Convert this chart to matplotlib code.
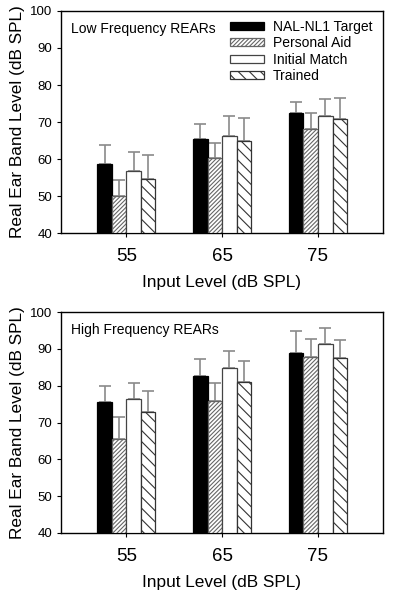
import numpy as np
import matplotlib
matplotlib.use("Agg")
import matplotlib.pyplot as plt

plt.rcParams['font.family'] = ['Liberation Sans', 'DejaVu Sans']
plt.rcParams['hatch.linewidth'] = 0.8

# data
input_levels = ["55", "65", "75"]
series_names = ["NAL-NL1 Target", "Personal Aid", "Initial Match", "Trained"]

low_means = {
    "NAL-NL1 Target": [58.6, 65.5, 72.3],
    "Personal Aid":   [49.9, 60.2, 68.2],
    "Initial Match":  [56.7, 66.3, 71.7],
    "Trained":        [54.5, 64.9, 70.8],
}
low_upper = {
    "NAL-NL1 Target": [63.7, 69.4, 75.3],
    "Personal Aid":   [54.2, 64.3, 72.5],
    "Initial Match":  [62.0, 71.6, 76.2],
    "Trained":        [61.0, 71.0, 76.4],
}
high_means = {
    "NAL-NL1 Target": [75.7, 82.6, 89.0],
    "Personal Aid":   [65.5, 75.9, 87.9],
    "Initial Match":  [76.5, 84.7, 91.2],
    "Trained":        [72.9, 81.1, 87.6],
}
high_upper = {
    "NAL-NL1 Target": [80.0, 87.3, 94.9],
    "Personal Aid":   [71.6, 80.8, 92.7],
    "Initial Match":  [80.6, 89.5, 95.6],
    "Trained":        [78.5, 86.7, 92.3],
}

# bar styles
styles = {
    "NAL-NL1 Target": dict(facecolor="black", edgecolor="black", hatch=None),
    "Personal Aid":   dict(facecolor="white", edgecolor="#666666", hatch="////////"),
    "Initial Match":  dict(facecolor="white", edgecolor="#444444", hatch=None),
    "Trained":        dict(facecolor="white", edgecolor="#333333", hatch="\\\\\\"),
}

fig = plt.figure(figsize=(3.95, 5.94), dpi=100)
ax1 = fig.add_axes([0.154, 0.6077, 0.816, 0.3738])
ax2 = fig.add_axes([0.154, 0.1027, 0.816, 0.3720])

x = np.arange(len(input_levels))
w = 0.152


def draw_panel(ax, means, upper, title, legend):
    for i, name in enumerate(series_names):
        pos = x + (i - 1.5) * w
        m = np.array(means[name])
        u = np.array(upper[name])
        st = styles[name]
        ax.bar(pos, m - 40, w, bottom=40, facecolor=st["facecolor"],
               edgecolor=st["edgecolor"], hatch=st["hatch"], linewidth=0.9,
               label=name, zorder=3)
        eb = ax.errorbar(pos, m, yerr=[np.zeros_like(m), u - m], fmt="none",
                         ecolor="#8a8a8a", elinewidth=1.2, capsize=4,
                         capthick=1.2, zorder=2)
        for cap in eb[1]:
            cap.set_color("#333333")
    ax.set_ylim(40, 100)
    ax.set_xlim(-0.684, 2.68)
    ax.set_yticks(range(40, 101, 10))
    ax.set_xticks(x)
    ax.set_xticklabels(input_levels, fontsize=13.5)
    ax.tick_params(axis="y", labelsize=9.5, direction="out", length=3, pad=3)
    ax.tick_params(axis="x", direction="out", length=3, pad=8)
    for s in ax.spines.values():
        s.set_linewidth(1.0)
    ax.set_ylabel("Real Ear Band Level (dB SPL)", fontsize=12.4, labelpad=4)
    ax.set_xlabel("Input Level (dB SPL)", fontsize=12.4, labelpad=7)
    ax.text(0.033, 0.95, title, transform=ax.transAxes, fontsize=10,
            va="top", ha="left")
    if legend:
        ax.legend(loc="upper right", bbox_to_anchor=(1.0, 1.01),
                  frameon=False, fontsize=10, handlelength=2.4,
                  handleheight=0.5, handletextpad=0.65, labelspacing=0.18,
                  borderaxespad=0.4)


draw_panel(ax1, low_means, low_upper, "Low Frequency REARs", True)
draw_panel(ax2, high_means, high_upper, "High Frequency REARs", False)

fig.savefig("out.png", dpi=100)
